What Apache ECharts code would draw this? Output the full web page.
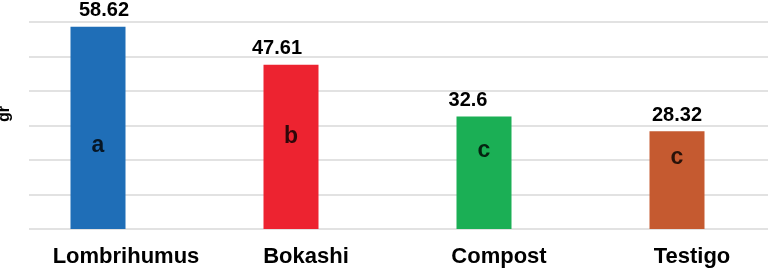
<!DOCTYPE html>
<html>
<head>
<meta charset="utf-8">
<script src="https://cdn.jsdelivr.net/npm/echarts@6/dist/echarts.min.js"></script>
<style>
html,body{margin:0;padding:0;background:#fff;}
#c{width:768px;height:274px;}
</style>
</head>
<body>
<div id="c"></div>
<script>
const categories = ['Lombrihumus', 'Bokashi', 'Compost', 'Testigo'];
const values = [58.62, 47.61, 32.6, 28.32];
const letters = ['a', 'b', 'c', 'c'];
const letterY = [24.3, 26.7, 22.6, 20.6];
const colors = ['#1F6EB7', '#ED2330', '#1BAF55', '#C55A30'];
const yTicks = {min: 0, max: 60, interval: 10};
const yTitle = 'gr';

const FONT = '"Liberation Sans", Arial, sans-serif';
const labelDx = [6, -14, -16, 0];
const chart = echarts.init(document.getElementById('c'), null, {renderer: 'canvas'});
chart.setOption({
  animation: false,
  backgroundColor: '#fff',
  grid: [
    {left: 1.5, width: 772, top: 22, bottom: 45, containLabel: false, outerBoundsMode: 'none'},
    {left: 29, right: 0, top: 22, bottom: 45, containLabel: false, outerBoundsMode: 'none'}
  ],
  graphic: [{
    type: 'text', x: 5, y: 114, rotation: Math.PI / 2,
    style: {text: yTitle, fill: '#000', fontFamily: FONT, fontWeight: 'bold', fontSize: 16, align: 'center', verticalAlign: 'middle'}
  }],
  xAxis: [
    {
      type: 'category', gridIndex: 0, data: categories,
      axisLine: {show: false}, axisTick: {show: false}, splitLine: {show: false},
      axisLabel: {
        interval: 0, hideOverlap: false,
        margin: 17, color: '#000', fontFamily: FONT, fontWeight: 'bold', fontSize: 22,
        formatter: (v, i) => (i === 0 ? '{l|' + v + '}' : '{n|' + v + '}'),
        rich: {
          l: {padding: [0, 0, 0, 56], color: '#000', fontFamily: FONT, fontWeight: 'bold', fontSize: 22},
          n: {padding: [0, 0, 0, 30], color: '#000', fontFamily: FONT, fontWeight: 'bold', fontSize: 22}
        }
      }
    },
    {type: 'value', gridIndex: 1, show: false, min: 0, max: 1}
  ],
  yAxis: [
    {type: 'value', gridIndex: 0, min: yTicks.min, max: yTicks.max, interval: yTicks.interval, show: false},
    {
      type: 'value', gridIndex: 1, min: yTicks.min, max: yTicks.max, interval: yTicks.interval,
      axisLine: {show: false}, axisTick: {show: false}, axisLabel: {show: false},
      splitLine: {show: true, lineStyle: {color: '#d9d9d9', width: 1.5}}
    }
  ],
  series: [
    {
      type: 'bar', xAxisIndex: 0, yAxisIndex: 0, barWidth: 55,
      data: values.map((v, i) => ({value: v, itemStyle: {color: colors[i]}, label: {offset: [labelDx[i], 0]}})),
      label: {show: true, position: 'top', distance: 6, color: '#000', fontFamily: FONT, fontWeight: 'bold', fontSize: 20},
      z: 3
    },
    {
      type: 'scatter', xAxisIndex: 0, yAxisIndex: 0, symbolSize: 2,
      itemStyle: {color: 'rgba(0,0,0,0)'},
      data: letterY.map((y, i) => [i, y]),
      label: {
        show: true, position: 'inside', color: '#000', fontFamily: FONT, fontWeight: 'bold', fontSize: 23,
        formatter: p => letters[p.dataIndex]
      },
      labelLayout: {hideOverlap: false},
      z: 5
    }
  ]
});
</script>
</body>
</html>
